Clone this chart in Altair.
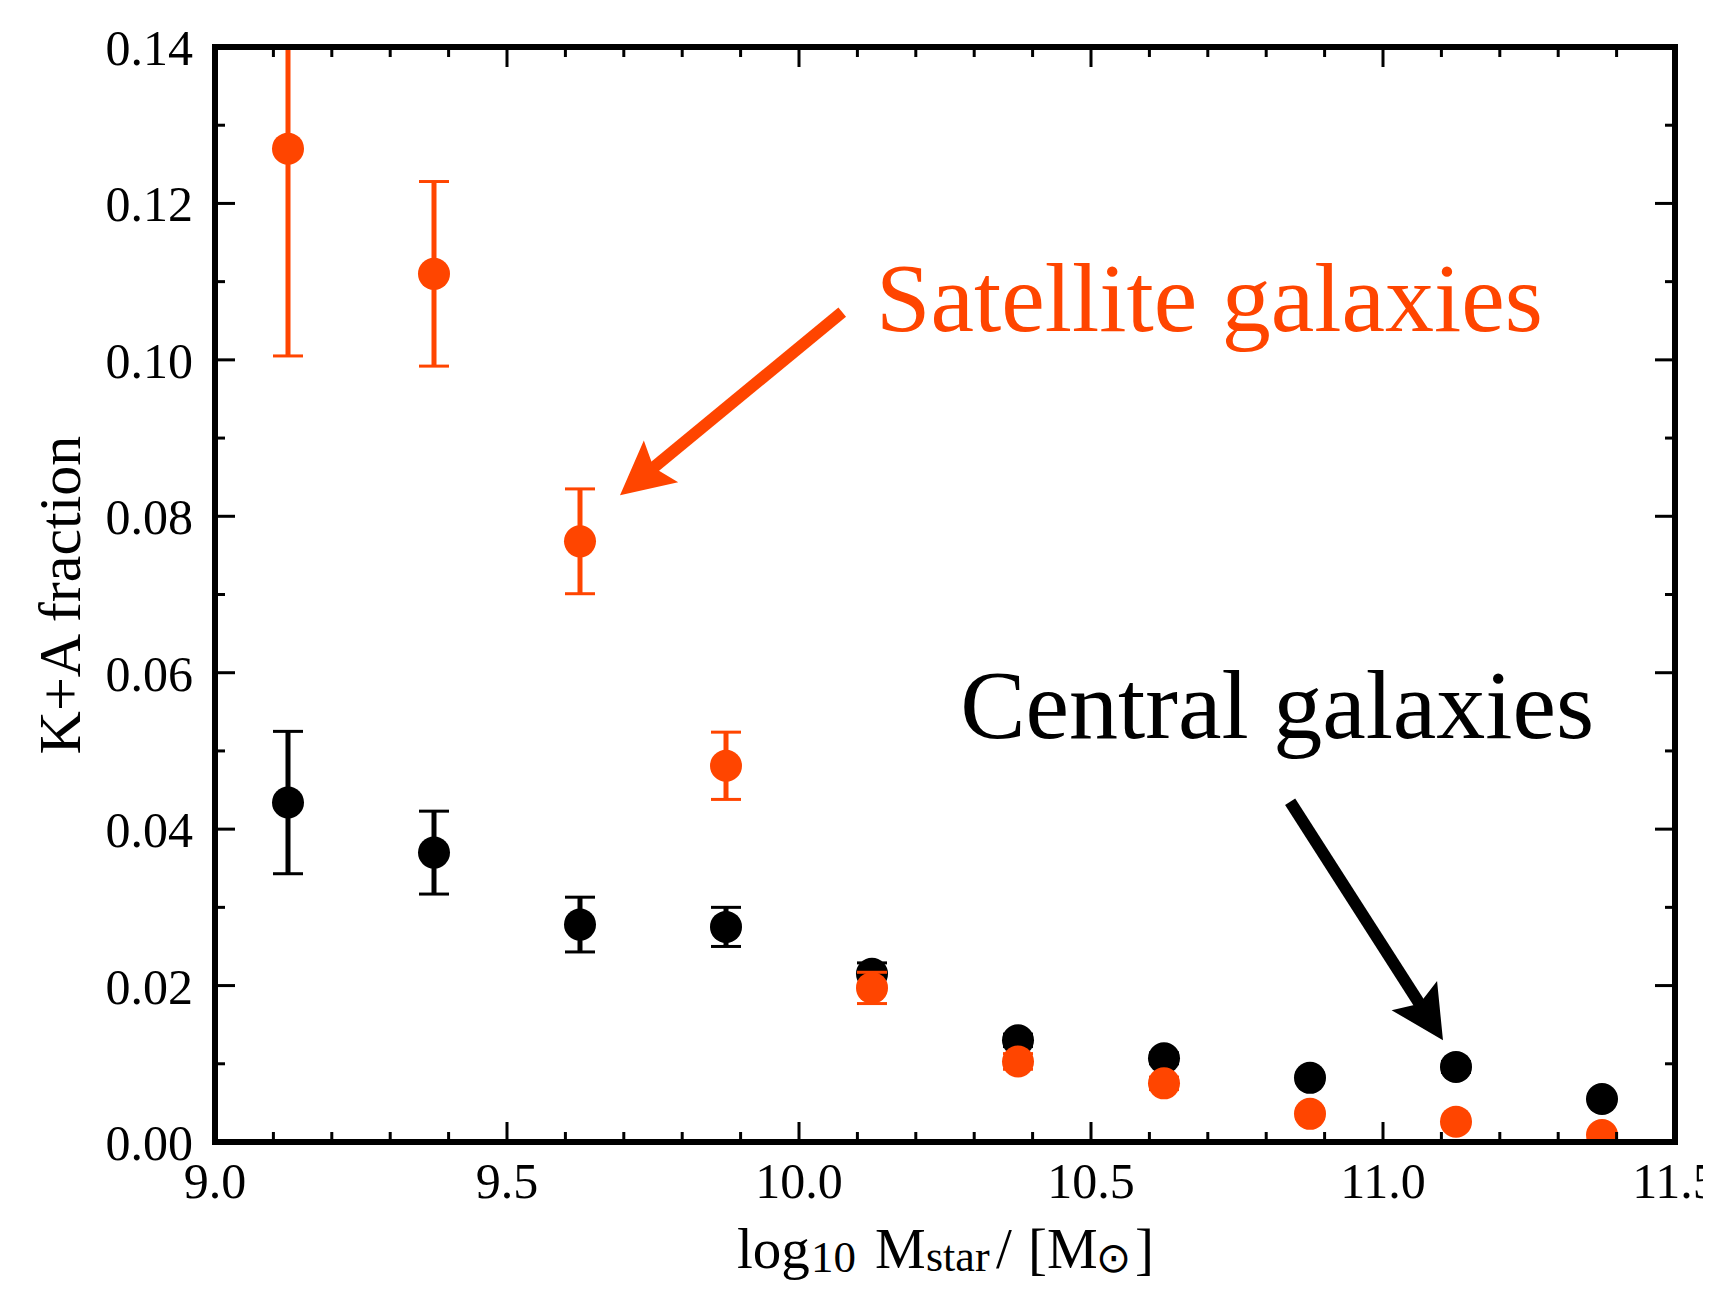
import math
import altair as alt
import pandas as pd

# ---------------- data ----------------
x_bins = [9.125, 9.375, 9.625, 9.875, 10.125, 10.375, 10.625, 10.875, 11.125, 11.375]
sat_frac = [0.1270, 0.1110, 0.0768, 0.0481, 0.0197, 0.0103, 0.0075, 0.0036, 0.0026, 0.0009]
sat_err = [0.0265, 0.0118, 0.0067, 0.0043, 0.0020, 0.0010, 0.0008, 0.0006, 0.0005, 0.0004]
cen_frac = [0.0434, 0.0370, 0.0278, 0.0275, 0.0215, 0.0130, 0.0107, 0.0082, 0.0096, 0.0055]
cen_err = [0.0091, 0.0053, 0.0035, 0.0025, 0.0014, 0.0008, 0.0007, 0.0006, 0.0007, 0.0005]

x_major = [9.0, 9.5, 10.0, 10.5, 11.0, 11.5]
x_minor = [9.1, 9.2, 9.3, 9.4, 9.6, 9.7, 9.8, 9.9, 10.1, 10.2, 10.3, 10.4,
           10.6, 10.7, 10.8, 10.9, 11.1, 11.2, 11.3, 11.4]
y_major = [0.00, 0.02, 0.04, 0.06, 0.08, 0.10, 0.12, 0.14]
y_minor = [0.01, 0.03, 0.05, 0.07, 0.09, 0.11, 0.13]

labels = ["Satellite galaxies", "Central galaxies"]
label_x = [10.132, 10.276]
label_y = [0.1037, 0.05165]
arrow_start_x = [10.074, 10.841]
arrow_start_y = [0.1061, 0.0435]
arrow_tip_x = [9.6935, 11.1027]
arrow_tip_y = [0.0827, 0.0130]

ORANGE = "#ff4500"
BLACK = "#000000"
series_colors = [ORANGE, BLACK]

# ---------------- layout ----------------
W, H = 1460, 1095
FONT = "Liberation Serif"
XDOM = [9.0, 11.5]
YDOM = [0.0, 0.14]


def xs():
    return alt.Scale(domain=XDOM, nice=False, zero=False)


def ys():
    return alt.Scale(domain=YDOM, nice=False, zero=False)


def X(field):
    return alt.X(field, scale=xs(), axis=None)


def Y(field):
    return alt.Y(field, scale=ys(), axis=None)


def series_df(fr, er):
    return pd.DataFrame({
        "x": x_bins,
        "y": fr,
        "lo": [f - e for f, e in zip(fr, er)],
        "hi": [f + e for f, e in zip(fr, er)],
    })


cen = series_df(cen_frac, cen_err)
sat = series_df(sat_frac, sat_err)


def series_layers(df, color):
    bars = alt.Chart(df).mark_rule(color=color, strokeWidth=5, clip=True).encode(
        x=X("x:Q"), y=Y("lo:Q"), y2="hi:Q")
    cap_lo = alt.Chart(df).mark_tick(color=color, orient="horizontal", size=30,
                                      thickness=3, opacity=1, clip=True).encode(
        x=X("x:Q"), y=Y("lo:Q"))
    cap_hi = alt.Chart(df).mark_tick(color=color, orient="horizontal", size=30,
                                      thickness=3, opacity=1, clip=True).encode(
        x=X("x:Q"), y=Y("hi:Q"))
    pts = alt.Chart(df).mark_circle(color=color, size=1024, opacity=1, clip=True).encode(
        x=X("x:Q"), y=Y("y:Q"))
    return [bars, cap_lo, cap_hi, pts]


# ---------------- ticks (inward, all four sides) ----------------
def xticks(vals, length):
    d = pd.DataFrame({"x": vals})
    bottom = alt.Chart(d).mark_rule(color="black", strokeWidth=3).encode(
        x=X("x:Q"), y=alt.value(H), y2=alt.value(H - length))
    top = alt.Chart(d).mark_rule(color="black", strokeWidth=3).encode(
        x=X("x:Q"), y=alt.value(0), y2=alt.value(length))
    return [bottom, top]


def yticks(vals, length):
    d = pd.DataFrame({"y": vals})
    left = alt.Chart(d).mark_rule(color="black", strokeWidth=3).encode(
        y=Y("y:Q"), x=alt.value(0), x2=alt.value(length))
    right = alt.Chart(d).mark_rule(color="black", strokeWidth=3).encode(
        y=Y("y:Q"), x=alt.value(W), x2=alt.value(W - length))
    return [left, right]


tick_layers = xticks(x_major, 20) + xticks(x_minor, 10) + yticks(y_major, 20) + yticks(y_minor, 10)

# tick labels placed through the scales
xlab = alt.Chart(pd.DataFrame({"x": x_major})).mark_text(
    font=FONT, fontSize=50, color="black", align="center", baseline="alphabetic").encode(
    x=X("x:Q"), y=alt.value(H + 56), text=alt.Text("x:Q", format=".1f"))
ylab = alt.Chart(pd.DataFrame({"y": y_major})).mark_text(
    font=FONT, fontSize=50, color="black", align="right", baseline="alphabetic", dy=18).encode(
    y=Y("y:Q"), x=alt.value(-22), text=alt.Text("y:Q", format=".2f"))

# ---------------- annotations ----------------
PX_X = W / (XDOM[1] - XDOM[0])
PX_Y = H / (YDOM[1] - YDOM[0])
arr_rows = []
for sx, sy, tx, ty, c in zip(arrow_start_x, arrow_start_y, arrow_tip_x, arrow_tip_y, series_colors):
    dxp = (tx - sx) * PX_X
    dyp = -(ty - sy) * PX_Y
    L = math.hypot(dxp, dyp)
    f = 1 - 30.0 / L
    ang = math.degrees(math.atan2(dxp, -dyp)) % 360
    arr_rows.append({"xs": sx, "ys": sy, "xe": sx + (tx - sx) * f, "ye": sy + (ty - sy) * f,
                     "xt": tx, "yt": ty, "ang": ang, "col": c})
arr = pd.DataFrame(arr_rows)

arrow_shafts = alt.Chart(arr).mark_rule(strokeWidth=12, strokeCap="butt").encode(
    x=X("xs:Q"), y=Y("ys:Q"), x2="xe:Q", y2="ye:Q", color=alt.Color("col:N", scale=None))

HEAD = "M0,0L0.9,1.77L0,1.45L-0.9,1.77Z"
arrow_heads = alt.Chart(arr).mark_point(shape=HEAD, filled=True, size=3600, opacity=1,
                                        strokeWidth=0).encode(
    x=X("xt:Q"), y=Y("yt:Q"),
    angle=alt.Angle("ang:Q", scale=None), color=alt.Color("col:N", scale=None))

ann = pd.DataFrame({"t": labels, "x": label_x, "y": label_y, "col": series_colors})
ann_text = alt.Chart(ann).mark_text(align="left", baseline="alphabetic", font=FONT,
                                    fontSize=98).encode(
    x=X("x:Q"), y=Y("y:Q"), text="t:N", color=alt.Color("col:N", scale=None))

one = pd.DataFrame({"k": [0]})


def piece(text, px, py, size, font=FONT, angle=0, align="left"):
    kw = dict(text=text, font=font, fontSize=size, color="black", align=align,
              baseline="alphabetic")
    if angle:
        kw["angle"] = angle
    return alt.Chart(one).mark_text(**kw).encode(x=alt.value(px), y=alt.value(py))


title_layers = [
    piece("K+A fraction", -135, 548, 60, angle=270, align="center"),
    piece("log", 522, 1221, 57),
    piece("10", 596, 1225, 45),
    piece("M", 660, 1221, 57),
    piece("star", 711, 1224, 44),
    piece("/", 781, 1221, 57),
    piece("[", 813, 1221, 57),
    piece("M", 832, 1221, 57),
    piece("\u2299", 881, 1225, 42, font="DejaVu Sans"),
    piece("]", 920, 1221, 57),
]

frame = alt.Chart(one).mark_rect(fill="transparent", stroke="black", strokeWidth=6).encode(
    x=alt.value(0), x2=alt.value(W), y=alt.value(0), y2=alt.value(H))

layers = (series_layers(cen, BLACK)
          + series_layers(sat, ORANGE)
          + tick_layers
          + [xlab, ylab, arrow_shafts, arrow_heads, ann_text]
          + title_layers
          + [frame])

chart = alt.layer(*layers).properties(
    width=W, height=H,
    padding={"left": 207, "top": 39, "right": 28, "bottom": 140},
    autosize=alt.AutoSizeParams(type="none"),
    background="white",
).configure_view(strokeWidth=0)

chart.save("out.html", embed_options={"renderer": "svg", "actions": False})
